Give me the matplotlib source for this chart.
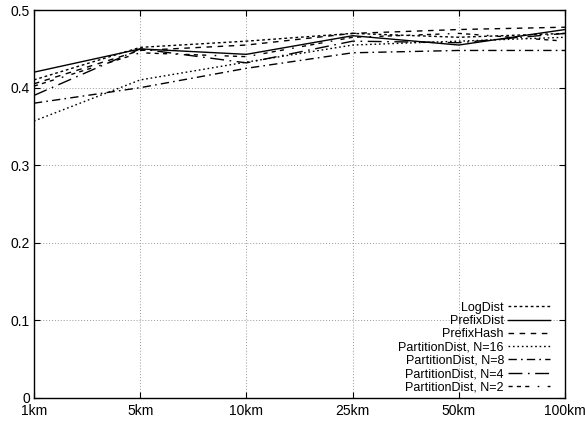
import numpy as np
import matplotlib.pyplot as plt

plt.rcParams['font.family'] = ['Liberation Sans', 'DejaVu Sans']

# data
distances = ["1km", "5km", "10km", "25km", "50km", "100km"]
log_dist = [0.410, 0.452, 0.460, 0.470, 0.465, 0.470]
prefix_dist = [0.420, 0.450, 0.443, 0.467, 0.455, 0.475]
prefix_hash = [0.405, 0.448, 0.455, 0.470, 0.475, 0.478]
part_16 = [0.357, 0.410, 0.433, 0.455, 0.460, 0.465]
part_8 = [0.380, 0.400, 0.425, 0.445, 0.448, 0.448]
part_4 = [0.390, 0.450, 0.432, 0.460, 0.458, 0.470]
part_2 = [0.402, 0.445, 0.440, 0.465, 0.470, 0.460]

series = [
    ("LogDist", log_dist, (0, (2, 2))),
    ("PrefixDist", prefix_dist, "solid"),
    ("PrefixHash", prefix_hash, (0, (4, 4))),
    ("PartitionDist, N=16", part_16, (0, (1.2, 2))),
    ("PartitionDist, N=8", part_8, (0, (6, 3, 1.2, 3))),
    ("PartitionDist, N=4", part_4, (0, (10, 4, 1.2, 4))),
    ("PartitionDist, N=2", part_2, (0, (3, 3, 3, 3, 3, 6, 1.2, 6))),
]

x = np.arange(len(distances))

fig = plt.figure(figsize=(5.85, 4.22), dpi=100)
ax = fig.add_axes([0.058, 0.057, 0.908, 0.919])

for label, vals, ls in series:
    ax.plot(x, vals, color="black", lw=1.0, linestyle=ls, label=label)

ax.set_xlim(0, len(distances) - 1)
ax.set_ylim(0, 0.5)
ax.set_xticks(x)
ax.set_xticklabels(distances)
ax.set_yticks([0, 0.1, 0.2, 0.3, 0.4, 0.5])
ax.set_yticklabels(["0", "0.1", "0.2", "0.3", "0.4", "0.5"])
ax.tick_params(direction="in", top=True, right=True, length=4, labelsize=10, pad=3)
ax.tick_params(axis="x", pad=4)
ax.grid(True, color="#999999", linestyle=(0, (1, 2)), lw=0.7)
for s in ax.spines.values():
    s.set_linewidth(1.0)

leg = ax.legend(loc="lower right", bbox_to_anchor=(0.972, 0.012), fontsize=9,
                markerfirst=False, frameon=False, borderpad=0, borderaxespad=0,
                handlelength=3.4, handletextpad=0.3, labelspacing=0.1)

fig.savefig("out.png", dpi=100)
